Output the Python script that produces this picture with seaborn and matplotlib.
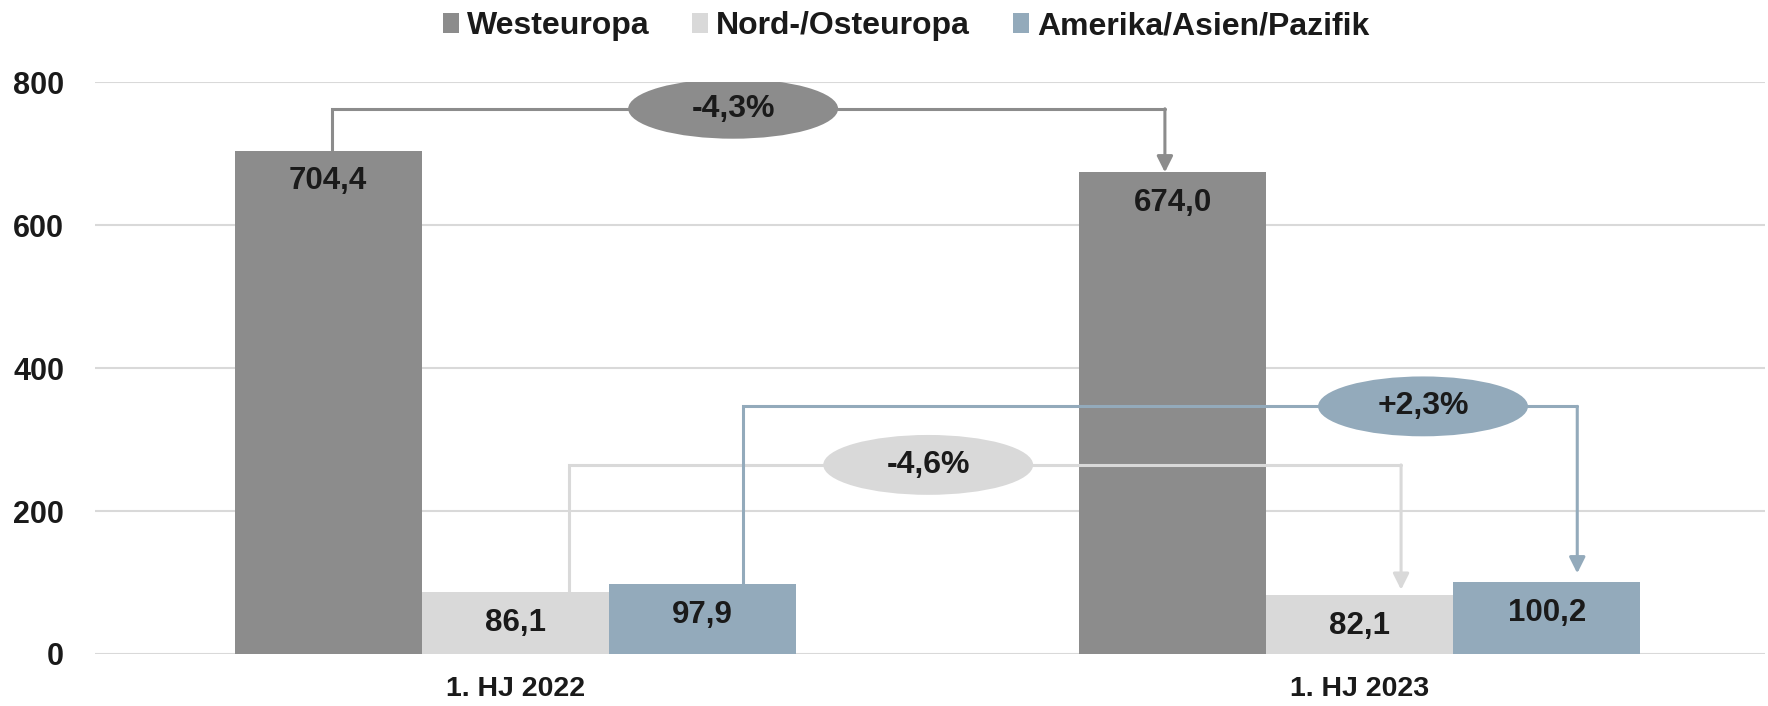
import matplotlib
matplotlib.use('Agg')
import matplotlib.pyplot as plt
import pandas as pd
import seaborn as sns
from matplotlib.patches import Ellipse

# Daten
perioden = ['1. HJ 2022', '1. HJ 2023']
regionen = ['Westeuropa', 'Nord-/Osteuropa', 'Amerika/Asien/Pazifik']
westeuropa = [704.4, 674.0]
nord_osteuropa = [86.1, 82.1]
amerika_asien_pazifik = [97.9, 100.2]
veraenderung = ['-4,3%', '-4,6%', '+2,3%']

farben = ['#8c8c8c', '#d9d9d9', '#93aabb']
text_col = '#1a1a1a'

df = pd.DataFrame({
    'Zeitraum': perioden * 3,
    'Region': [r for r in regionen for _ in perioden],
    'Wert': westeuropa + nord_osteuropa + amerika_asien_pazifik,
})

sns.set_theme(style='white')
plt.rcParams['font.family'] = ['Liberation Sans', 'DejaVu Sans']
narrow = ['Liberation Sans Narrow', 'Liberation Sans', 'DejaVu Sans']

fig = plt.figure(figsize=(17.68, 7.06), dpi=100)
ax = fig.add_axes([0.0536, 0.0737, 0.9447, 0.8097])

sns.barplot(data=df, x='Zeitraum', y='Wert', hue='Region', hue_order=regionen,
            order=perioden, palette=farben, saturation=1, width=0.665, gap=0,
            linewidth=0, errorbar=None, ax=ax, zorder=2)

ax.set_xlim(-0.498, 1.48)
ax.set_ylim(0, 800)
ax.set_yticks([0, 200, 400, 600, 800])
ax.yaxis.grid(True, color='#d9d9d9', lw=1.5)
ax.set_axisbelow(True)
for s in ax.spines.values():
    s.set_visible(False)
ax.tick_params(axis='y', length=0, pad=22, labelsize=22, labelcolor=text_col)
ax.tick_params(axis='x', length=0, pad=16, labelsize=20.5, labelcolor=text_col)
for lbl in ax.get_xticklabels() + ax.get_yticklabels():
    lbl.set_fontweight('bold')
ax.set_xlabel('')
ax.set_ylabel('')

# Werte in den Balken
for cont in ax.containers:
    for bar in cont:
        v = bar.get_height()
        ax.annotate(f'{v:.1f}'.replace('.', ','), (bar.get_x() + bar.get_width() / 2, v),
                    xytext=(0, -22), textcoords='offset points', ha='center', va='center',
                    fontsize=22.5, fontweight='bold', color=text_col, zorder=5)

# Verbindungslinien mit Veraenderung
ebenen = [763, 264.6, 346.5]
start_off = [0.005, 0.064, 0.048]
end_off = [-0.009, 0.049, 0.036]
pfeil_abstand = [0, 4, 6.5]
ellipse_x = [0.258, 0.489, 1.075]
for i, cont in enumerate(ax.containers):
    b0, b1 = cont[0], cont[1]
    x0 = b0.get_x() + b0.get_width() / 2 + start_off[i]
    x1 = b1.get_x() + b1.get_width() / 2 + end_off[i]
    y = ebenen[i]
    ax.plot([x0, x0, x1], [b0.get_height(), y, y], color=farben[i], lw=2.2,
            zorder=3, solid_joinstyle='miter')
    ax.annotate('', xy=(x1, b1.get_height()), xytext=(x1, y),
                arrowprops=dict(arrowstyle='-|>', color=farben[i], lw=2.2, shrinkA=0,
                                shrinkB=pfeil_abstand[i], mutation_scale=24), zorder=3)
    ax.add_patch(Ellipse((ellipse_x[i], y), 0.2486, 83.8, facecolor=farben[i],
                         edgecolor='none', zorder=4))
    ax.text(ellipse_x[i], y, veraenderung[i], ha='center', va='center', fontsize=23,
            fontweight='bold', family=narrow, color=text_col, zorder=5)

h, l = ax.get_legend_handles_labels()
ax.legend(h, l, loc='center', bbox_to_anchor=(0.5125, 0.963), bbox_transform=fig.transFigure,
          ncol=3, frameon=False, prop=dict(family=narrow, weight='bold', size=23),
          labelcolor=text_col, handlelength=0.5, handleheight=0.6, handletextpad=0.25,
          columnspacing=1.35)

fig.savefig('out.png', dpi=100)
